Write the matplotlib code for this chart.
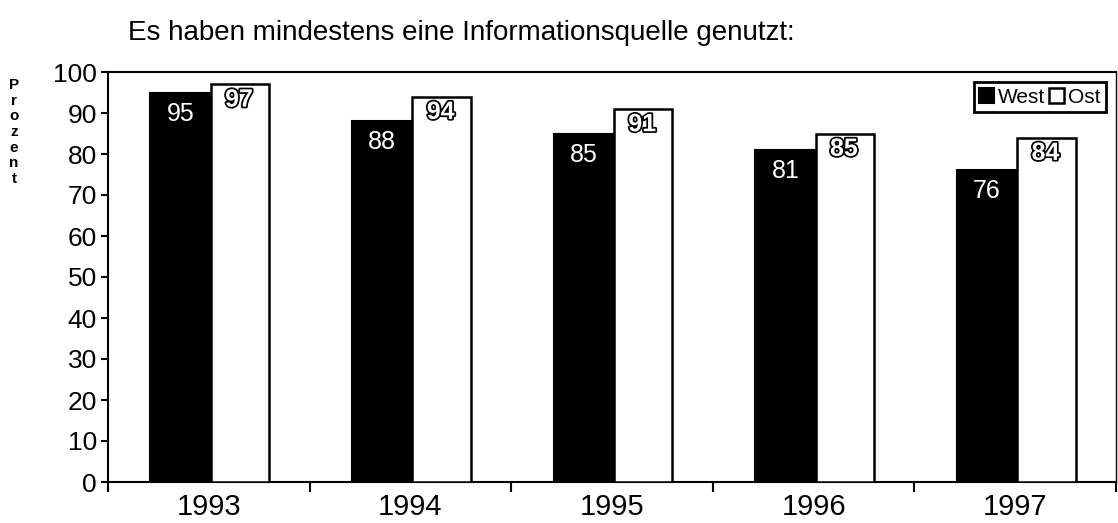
import numpy as np
import matplotlib.pyplot as plt
import matplotlib.patheffects as pe

years = ['1993', '1994', '1995', '1996', '1997']
west = [95, 88, 85, 81, 76]
ost = [97, 94, 91, 85, 84]

plt.rcParams['font.family'] = ['Liberation Sans', 'DejaVu Sans']

fig = plt.figure(figsize=(11.18, 5.23), dpi=100)
ax = fig.add_axes([108 / 1118, 41 / 523, 1008 / 1118, 410 / 523])

x = np.arange(len(years))
w = 0.3
ax.bar(x - w / 2 + 0.01, west, w, color='black', edgecolor='black', linewidth=1.5, label='West', zorder=2)
ax.bar(x + w / 2 + 0.005, ost, w - 0.01, color='white', edgecolor='black', linewidth=1.8, label='Ost', zorder=3)

for i in range(len(years)):
    ax.text(x[i] - w / 2 + 0.01, west[i] - 2.2, str(west[i]), color='white', ha='center', va='top',
            fontsize=18, zorder=4)
    ax.text(x[i] + w / 2, ost[i] - 0.8, str(ost[i]), color='white', ha='center', va='top',
            fontsize=18, fontweight='bold', zorder=4,
            path_effects=[pe.withStroke(linewidth=2.5, foreground='black')])

ax.set_xlim(-0.5, 4.5)
ax.set_ylim(0, 100)
ax.set_yticks(range(0, 101, 10))
ax.tick_params(axis='y', labelsize=19, length=5, width=1.5, direction='out', pad=3)
ax.set_xticks(np.arange(-0.5, 5, 1))
ax.set_xticklabels([])
ax.set_xticks(x, minor=True)
ax.set_xticklabels(years, minor=True, fontsize=21)
ax.tick_params(axis='x', which='major', length=7, width=1.5, direction='out')
ax.tick_params(axis='x', which='minor', length=0, pad=8)
for s in ax.spines.values():
    s.set_linewidth(1.5)
ax.spines['right'].set_linewidth(1)

leg = ax.legend(loc='upper right', fontsize=15, frameon=True, fancybox=False, edgecolor='black',
                framealpha=1, ncol=2, handlelength=0.7, handleheight=0.7, handletextpad=0.2,
                columnspacing=0.2, borderpad=0.25, borderaxespad=0.5)
leg.get_frame().set_linewidth(2)

fig.text(128 / 1118, 1 - 33 / 523, 'Es haben mindestens eine Informationsquelle genutzt:',
         fontsize=20, va='center', ha='left')
fig.text(14 / 1118, 1 - 132 / 523, '\n'.join('Prozent'), fontsize=11, fontweight='bold',
         va='center', ha='center', linespacing=1.15)

fig.savefig('out.png', dpi=100)
